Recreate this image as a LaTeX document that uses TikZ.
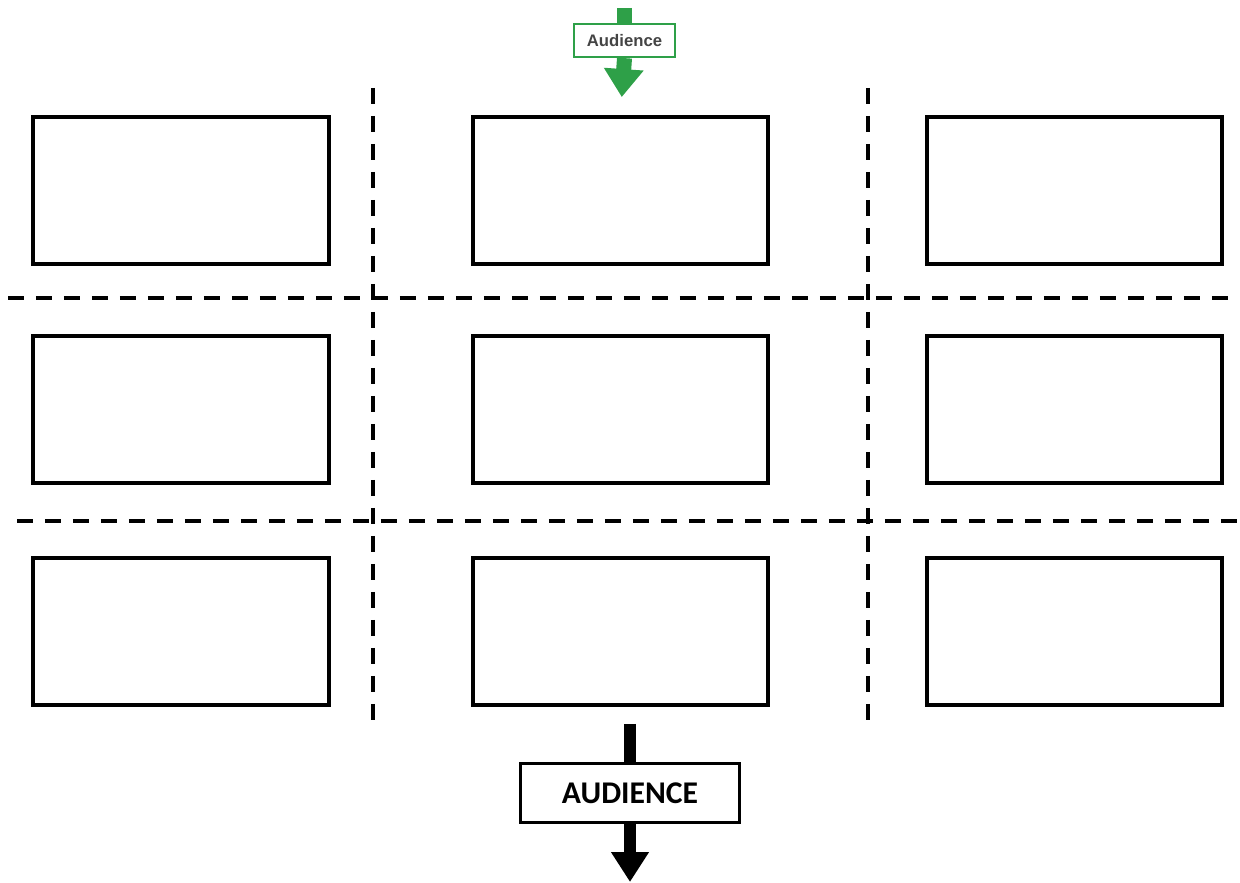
\documentclass[tikz,border=0pt]{standalone}
\usepackage{fontspec}
\setmainfont{Carlito}
\newfontfamily\arialfont{Liberation Sans}
\usetikzlibrary{arrows.meta}
\definecolor{audgreen}{RGB}{46,160,72}
\definecolor{audgray}{RGB}{68,68,68}
\tikzset{
	seat/.style={draw, line width=0.08cm, minimum width=5.92cm, minimum height=2.94cm, inner sep=0pt},
	aisle/.style={line width=0.08cm, dash pattern=on 0.32cm off 0.24cm},
	greenbox/.style={draw=audgreen, line width=0.045cm, fill=white, minimum width=2.02cm, minimum height=0.66cm, inner sep=0pt, text=audgray, font=\arialfont\bfseries\fontsize{9.5}{11}\selectfont},
	blackbox/.style={draw, line width=0.07cm, fill=white, minimum width=4.38cm, minimum height=1.18cm, inner sep=0pt, font=\bfseries\fontsize{18}{20}\selectfont}
}
\begin{document}
\begin{tikzpicture}[x=0.02cm, y=-0.02cm]
			%%%%% START %%%%%
			\useasboundingbox (0, 0) rectangle (1240, 882);
			
			% grid of blocks
			\node[seat] (l1) at (181, 190.5) {};
			\node[seat] (m1) at (620.5, 190.5) {};
			\node[seat] (r1) at (1074.5, 190.5) {};
			\node[seat] (l2) at (181, 409.5) {};
			\node[seat] (m2) at (620.5, 409.5) {};
			\node[seat] (r2) at (1074.5, 409.5) {};
			\node[seat] (l3) at (181, 631.5) {};
			\node[seat] (m3) at (620.5, 631.5) {};
			\node[seat] (r3) at (1074.5, 631.5) {};
			
			% aisles
			\draw[aisle] (373, 88) -- (373, 720);
			\draw[aisle] (868, 88) -- (868, 720);
			\draw[aisle] (8, 298) -- (1228, 298);
			\draw[aisle] (17, 521) -- (1237, 521);
			
			% way in
			\coordinate (entry) at (624.5, 8);
			\node[greenbox] (audin) at (624.5, 40.5) {Audience};
			\draw[audgreen, line width=0.3cm] (entry) -- (audin.north);
			\draw[audgreen, line width=0.3cm, shorten >=0.36cm, -{Triangle[width=0.76cm, length=0.56cm]}] (audin.south) -- (m1.north);
			
			% way out
			\node[blackbox] (audout) at (630, 793) {AUDIENCE};
			\coordinate (exit) at (630, 882);
			\draw[line width=0.24cm, shorten <=0.34cm] (m3.south -| audout.north) -- (audout.north);
			\draw[line width=0.24cm, -{Triangle[width=0.72cm, length=0.6cm]}] (audout.south) -- (exit);
			
			%%%%% END %%%%%
\end{tikzpicture}
\end{document}
